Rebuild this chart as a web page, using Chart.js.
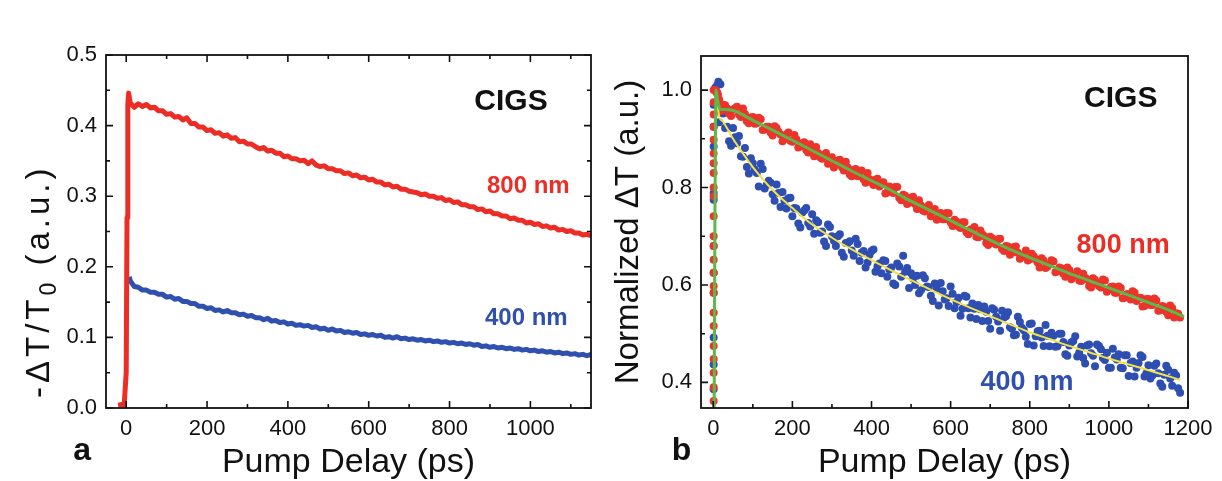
<!DOCTYPE html>
<html>
<head>
<meta charset="utf-8">
<script src="https://cdn.jsdelivr.net/npm/chart.js@4.4.1/dist/chart.umd.min.js"></script>
<style>
  body { margin: 0; background: #fff; overflow: hidden; }
  .panel { position: absolute; top: 0; width: 611px; height: 481px; }
</style>
</head>
<body>
<div class="panel" style="left:0"><canvas id="chartA"></canvas></div>
<div class="panel" style="left:611px"><canvas id="chartB"></canvas></div>
<script>
const FONT = "'Liberation Sans', Arial, sans-serif";
const RED = '#ec2d25';
const BLUE = '#2f50ae';

// pump delay in ps
const delay = [10,20,30,40,50,60,70,80,90,100,110,120,130,140,150,160,170,180,190,200,
  210,220,230,240,250,260,270,280,290,300,310,320,330,340,350,360,370,380,390,400,
  410,420,430,440,450,460,470,480,490,500,510,520,530,540,550,560,570,580,590,600,
  610,620,630,640,650,660,670,680,690,700,710,720,730,740,750,760,770,780,790,800,
  810,820,830,840,850,860,870,880,890,900,910,920,930,940,950,960,970,980,990,1000,
  1010,1020,1030,1040,1050,1060,1070,1080,1090,1100,1110,1120,1130,1140,1150,1160,1170,1180];
const delayHalf = [15,25,35,45,55,65,75,85,95,105,115,125,135,145,155,165,175,185,195,205,
  215,225,235,245,255,265,275,285,295,305,315,325,335,345,355,365,375,385,395,405,
  415,425,435,445,455,465,475,485,495,505,515,525,535,545,555,565,575,585,595,605,
  615,625,635,645,655,665,675,685,695,705,715,725,735,745,755,765,775,785,795,805,
  815,825,835,845,855,865,875,885,895,905,915,925,935,945,955,965,975,985,995,1005,
  1015,1025,1035,1045,1055,1065,1075,1085,1095,1105,1115,1125,1135,1145,1155,1165,1175];

// panel a: -dT/T0
const riseDelayA = [-20, -10, -5, 0, 2, 4, 6];
const riseRedA = [0.004, 0.005, 0.004, 0.05, 0.27, 0.43, 0.446];
const red800A = [
  0.432,0.426,0.431,0.427,0.430,0.425,0.426,0.421,0.421,0.416,
  0.417,0.412,0.413,0.408,0.411,0.403,0.403,0.398,0.398,0.393,
  0.394,0.389,0.390,0.385,0.387,0.382,0.383,0.377,0.378,0.374,
  0.374,0.370,0.367,0.369,0.364,0.365,0.361,0.361,0.356,0.357,
  0.353,0.353,0.350,0.351,0.346,0.350,0.344,0.342,0.343,0.339,
  0.339,0.336,0.336,0.332,0.333,0.329,0.330,0.326,0.327,0.323,
  0.324,0.320,0.320,0.316,0.317,0.313,0.314,0.310,0.310,0.307,
  0.306,0.305,0.302,0.303,0.300,0.300,0.297,0.298,0.294,0.295,
  0.291,0.292,0.288,0.288,0.285,0.285,0.281,0.282,0.278,0.279,
  0.275,0.275,0.272,0.272,0.268,0.269,0.266,0.266,0.262,0.263,
  0.260,0.261,0.257,0.258,0.255,0.256,0.252,0.253,0.250,0.251,
  0.248,0.248,0.245,0.246,0.244];
const leadDelayA = [8];
const leadBlueA = [0.186];
const blue400A = [
  0.180,0.172,0.171,0.167,0.167,0.164,0.164,0.161,0.161,0.157,
  0.158,0.154,0.155,0.151,0.151,0.148,0.148,0.144,0.144,0.141,
  0.142,0.138,0.139,0.136,0.138,0.135,0.135,0.132,0.133,0.130,
  0.131,0.128,0.128,0.125,0.127,0.123,0.124,0.121,0.122,0.119,
  0.120,0.117,0.118,0.116,0.117,0.114,0.115,0.112,0.113,0.110,
  0.112,0.109,0.110,0.107,0.108,0.106,0.107,0.104,0.105,0.103,
  0.104,0.102,0.103,0.100,0.101,0.099,0.101,0.098,0.099,0.097,
  0.098,0.096,0.097,0.095,0.096,0.094,0.095,0.093,0.094,0.092,
  0.093,0.091,0.092,0.090,0.091,0.089,0.090,0.087,0.088,0.086,
  0.087,0.085,0.086,0.084,0.085,0.083,0.084,0.082,0.083,0.081,
  0.082,0.080,0.081,0.079,0.080,0.078,0.079,0.077,0.078,0.076,
  0.077,0.075,0.076,0.074,0.076];

// panel b: normalized dT
const riseDelayB = 1;
const riseRedB = [0.362,0.39,0.42,0.448,0.475,0.516,0.543,0.584,0.598,0.625,0.652,0.68,
  0.70,0.741,0.782,0.80,0.83,0.85,0.87,0.898,0.925,0.95,0.975,1.0];
const riseBlueB = [0.386,0.437,0.492,0.584,0.625,0.68,0.775,0.789,0.884,0.925,0.97];
const peakDelayRedB = [5, 8, 12];
const peakRedB = [1.0, 0.995, 0.99];
const peakDelayBlueB = [5, 13, 18];
const peakBlueB = [1.005, 1.017, 1.012];
const red800B = [
  0.995,0.957,0.969,0.952,0.960,0.966,0.945,0.951,0.932,0.945,
  0.932,0.940,0.919,0.925,0.907,0.922,0.909,0.900,0.913,0.894,
  0.899,0.885,0.893,0.872,0.878,0.883,0.862,0.867,0.849,0.862,
  0.849,0.857,0.835,0.841,0.823,0.838,0.826,0.817,0.830,0.811,
  0.816,0.802,0.811,0.790,0.796,0.801,0.779,0.785,0.766,0.779,
  0.766,0.774,0.753,0.759,0.741,0.756,0.744,0.735,0.748,0.729,
  0.734,0.720,0.729,0.708,0.714,0.719,0.698,0.704,0.686,0.699,
  0.686,0.694,0.674,0.680,0.662,0.678,0.666,0.658,0.671,0.653,
  0.659,0.646,0.655,0.635,0.642,0.648,0.628,0.634,0.617,0.631,
  0.619,0.628,0.608,0.615,0.598,0.614,0.603,0.595,0.609,0.591,
  0.597,0.584,0.594,0.574,0.581,0.587,0.567,0.574,0.557,0.571,
  0.559,0.568,0.548,0.555,0.538,0.553,0.542,0.533];
const red800BHalf = [
  0.980,0.970,0.962,0.947,0.963,0.950,0.962,0.936,0.944,0.931,
  0.943,0.918,0.925,0.913,0.926,0.914,0.895,0.909,0.896,0.908,
  0.882,0.891,0.877,0.889,0.864,0.871,0.859,0.871,0.859,0.841,
  0.855,0.842,0.853,0.827,0.836,0.823,0.835,0.810,0.817,0.805,
  0.818,0.806,0.788,0.802,0.789,0.801,0.774,0.783,0.769,0.781,
  0.756,0.763,0.751,0.764,0.752,0.734,0.748,0.735,0.747,0.721,
  0.730,0.717,0.729,0.704,0.711,0.699,0.712,0.700,0.682,0.696,
  0.683,0.695,0.670,0.679,0.666,0.679,0.654,0.662,0.650,0.664,
  0.653,0.636,0.650,0.638,0.651,0.626,0.636,0.623,0.636,0.612,
  0.620,0.609,0.623,0.612,0.595,0.610,0.598,0.611,0.586,0.596,
  0.584,0.597,0.573,0.581,0.570,0.584,0.573,0.556,0.571,0.559,
  0.572,0.547,0.557,0.545,0.558,0.533,0.541];
const blue400B = [
  1.010,0.954,0.922,0.895,0.922,0.891,0.864,0.881,0.829,0.850,
  0.830,0.849,0.798,0.814,0.786,0.806,0.760,0.773,0.778,0.741,
  0.757,0.718,0.753,0.727,0.745,0.733,0.707,0.689,0.724,0.700,
  0.680,0.704,0.658,0.686,0.671,0.695,0.649,0.670,0.646,0.670,
  0.627,0.644,0.651,0.617,0.636,0.600,0.638,0.660,0.635,0.624,
  0.600,0.583,0.620,0.597,0.578,0.603,0.558,0.587,0.573,0.597,
  0.552,0.574,0.551,0.576,0.533,0.551,0.559,0.526,0.545,0.510,
  0.549,0.525,0.547,0.536,0.513,0.497,0.535,0.512,0.494,0.520,
  0.476,0.505,0.492,0.518,0.474,0.496,0.474,0.500,0.458,0.476,
  0.485,0.453,0.473,0.439,0.478,0.455,0.478,0.468,0.446,0.430,
  0.469,0.447,0.430,0.456,0.413,0.443,0.430,0.456,0.412,0.435,
  0.414,0.439,0.398,0.416,0.426,0.393,0.414,0.379];
const blue400BHalf = [
  0.934,0.952,0.925,0.886,0.903,0.906,0.863,0.842,0.860,0.837,
  0.802,0.838,0.805,0.810,0.773,0.789,0.791,0.757,0.779,0.758,
  0.726,0.749,0.758,0.720,0.705,0.729,0.710,0.680,0.719,0.691,
  0.700,0.666,0.686,0.690,0.660,0.684,0.666,0.636,0.662,0.673,
  0.638,0.624,0.649,0.632,0.603,0.644,0.617,0.627,0.594,0.614,
  0.619,0.589,0.614,0.596,0.567,0.593,0.604,0.570,0.557,0.582,
  0.565,0.537,0.578,0.552,0.562,0.530,0.550,0.556,0.526,0.552,
  0.535,0.506,0.533,0.544,0.510,0.498,0.524,0.507,0.479,0.521,
  0.495,0.506,0.475,0.496,0.502,0.473,0.500,0.483,0.455,0.482,
  0.495,0.461,0.450,0.476,0.460,0.433,0.475,0.450,0.461,0.430,
  0.451,0.458,0.429,0.456,0.440,0.412,0.440,0.452,0.419,0.408,
  0.434,0.419,0.391,0.434,0.408,0.420,0.388];

// fitted curves
const greenFitX = [2,4,7,12,17,30,45,55,75,100,150,200,250,300,350,400,450,500,550,600,
  650,700,750,800,850,900,950,1000,1050,1100,1150,1190];
const greenFitY = [0.30,0.70,1.0,0.975,0.961,0.960,0.959,0.957,0.949,0.938,0.918,0.897,
  0.876,0.855,0.834,0.814,0.794,0.772,0.752,0.732,0.712,0.692,0.673,0.656,0.640,0.624,
  0.609,0.594,0.579,0.564,0.549,0.535];
const yellowFitX = [2,4,7,15,25,50,75,100,150,200,250,300,350,400,450,500,550,600,650,700,
  750,800,850,900,950,1000,1050,1100,1150,1180];
const yellowFitY = [0.30,0.70,0.99,0.946,0.935,0.900,0.870,0.842,0.795,0.758,0.724,0.697,
  0.673,0.651,0.630,0.610,0.590,0.571,0.553,0.536,0.519,0.503,0.489,0.475,0.462,0.449,
  0.437,0.425,0.413,0.405];

// ticks
const xMajorA = [0,200,400,600,800,1000];
const xMinorA = [100,300,500,700,900,1100];
const yMajorA = [0,0.1,0.2,0.3,0.4,0.5];
const yMinorA = [0.05,0.15,0.25,0.35,0.45];
const xMajorB = [0,200,400,600,800,1000,1200];
const xMinorB = [100,300,500,700,900,1100];
const yMajorB = [0.4,0.6,0.8,1.0];
const yMinorB = [0.5,0.7,0.9];

const pts = (xs, ys) => ys.map((y, i) => ({x: Array.isArray(xs) ? xs[i] : xs, y}));

function makeFrame(cfg) {
  return {
    id: 'frame',
    afterDatasetsDraw(chart) {
      const {ctx, chartArea: a, scales} = chart;
      const sx = scales.x, sy = scales.y;
      ctx.save();
      ctx.strokeStyle = '#111';
      ctx.lineWidth = 1.6;
      ctx.beginPath();
      const seg = (x1, y1, x2, y2) => { ctx.moveTo(x1, y1); ctx.lineTo(x2, y2); };
      const xt = (vals, len) => vals.forEach(v => {
        const p = sx.getPixelForValue(v);
        seg(p, a.bottom, p, a.bottom - len);
        if (cfg.mirror) seg(p, a.top, p, a.top + len);
      });
      const yt = (vals, len) => vals.forEach(v => {
        const p = sy.getPixelForValue(v);
        seg(a.left, p, a.left + len, p);
        if (cfg.mirror) seg(a.right, p, a.right - len, p);
      });
      xt(cfg.xMajor, 7); xt(cfg.xMinor, 4);
      yt(cfg.yMajor, 7); yt(cfg.yMinor, 4);
      ctx.stroke();
      ctx.lineWidth = 1.8;
      ctx.strokeRect(a.left, a.top, a.right - a.left, a.bottom - a.top);
      ctx.restore();
    }
  };
}

function makeNotes(list) {
  return {
    id: 'notes',
    afterDraw(chart) {
      const {ctx, scales} = chart;
      ctx.save();
      ctx.textAlign = 'center';
      ctx.textBaseline = 'alphabetic';
      list.forEach(n => {
        ctx.font = 'bold ' + n.size + 'px ' + FONT;
        ctx.fillStyle = n.color;
        ctx.fillText(n.text, scales.x.getPixelForValue(n.x), scales.y.getPixelForValue(n.y));
      });
      ctx.restore();
    }
  };
}

// rotated y title with a real subscript, written upward from the bottom
function makeVTitle(parts, dx, dy) {
  return {
    id: 'vtitle',
    afterDraw(chart) {
      const {ctx, chartArea: a} = chart;
      ctx.save();
      ctx.translate(a.left + dx, a.bottom + dy);
      ctx.rotate(-Math.PI / 2);
      ctx.fillStyle = '#111';
      ctx.textAlign = 'left';
      ctx.textBaseline = 'alphabetic';
      ctx.letterSpacing = '4px';
      let cx = 0;
      parts.forEach(p => {
        ctx.font = p.size + 'px ' + FONT;
        ctx.fillText(p.text, cx, p.shift || 0);
        cx += ctx.measureText(p.text).width;
      });
      ctx.restore();
    }
  };
}

function xAxis(min, max, ticks) {
  return {
    type: 'linear', min, max,
    afterBuildTicks: s => { s.ticks = ticks.map(v => ({value: v})); },
    afterFit: s => { s.height = 73; },
    grid: {display: false, drawTicks: false},
    border: {display: false},
    ticks: {font: {size: 22}, color: '#111', padding: 8, maxRotation: 0, autoSkip: false,
      callback: v => String(v)},
    title: {display: true, text: 'Pump Delay (ps)', color: '#111',
      font: {size: 34, lineHeight: 1.1}, padding: {top: 0, bottom: 0}}
  };
}

function yAxis(min, max, ticks, width, title) {
  return {
    type: 'linear', min, max,
    afterBuildTicks: s => { s.ticks = ticks.map(v => ({value: v})); },
    afterFit: s => { s.width = width; },
    grid: {display: false, drawTicks: false},
    border: {display: false},
    ticks: {font: {size: 22}, color: '#111', padding: 9, autoSkip: false,
      callback: v => v.toFixed(1)},
    title: {display: !!title, text: title || '', color: '#111',
      font: {size: 33, lineHeight: 1.1}, padding: {top: 0, bottom: 0}}
  };
}

Chart.defaults.font.family = FONT;
Chart.defaults.animation = false;

new Chart(document.getElementById('chartA'), {
  type: 'scatter',
  data: {
    datasets: [
      {label: '800 nm', data: pts(riseDelayA, riseRedA).concat(pts(delay.slice(0, 115), red800A)),
        showLine: true, pointRadius: 0, borderColor: RED, borderWidth: 5, borderJoinStyle: 'round', order: 0},
      {label: '400 nm', data: pts(leadDelayA, leadBlueA).concat(pts(delay.slice(0, 115), blue400A)),
        showLine: true, pointRadius: 0, borderColor: BLUE, borderWidth: 5, borderJoinStyle: 'round', order: 1}
    ]
  },
  options: {
    responsive: true, maintainAspectRatio: false,
    layout: {padding: {left: 0, right: 20, top: 55, bottom: 0}},
    plugins: {legend: {display: false}, tooltip: {enabled: false}},
    scales: {
      x: xAxis(-50, 1150, xMajorA),
      y: yAxis(0, 0.5, yMajorA, 106, null)
    }
  },
  plugins: [
    makeFrame({xMajor: xMajorA, xMinor: xMinorA, yMajor: yMajorA, yMinor: yMinorA, mirror: true}),
    makeNotes([
      {text: 'CIGS', x: 952, y: 0.4225, size: 30, color: '#111'},
      {text: '800 nm', x: 995, y: 0.3045, size: 24, color: RED},
      {text: '400 nm', x: 990, y: 0.118, size: 24, color: BLUE},
      {text: 'a', x: -109, y: -0.0732, size: 32, color: '#111'}
    ]),
    makeVTitle([
      {text: '-ΔT/T', size: 33},
      {text: '0', size: 23, shift: 7},
      {text: ' (a.u.)', size: 33}
    ], -57, -10)
  ]
});

new Chart(document.getElementById('chartB'), {
  type: 'scatter',
  data: {
    datasets: [
      {label: 'fit 800 nm', data: pts(greenFitX, greenFitY), showLine: true, pointRadius: 0,
        borderColor: '#5cb848', borderWidth: 3, cubicInterpolationMode: 'monotone', order: 0},
      {label: 'fit 400 nm', data: pts(yellowFitX, yellowFitY), showLine: true, pointRadius: 0,
        borderColor: '#f2e244', borderWidth: 2, cubicInterpolationMode: 'monotone', order: 1},
      {label: '800 nm', data: pts(riseDelayB, riseRedB).concat(pts(peakDelayRedB, peakRedB),
          pts(delay, red800B), pts(delayHalf, red800BHalf)),
        pointRadius: 4, pointBorderWidth: 0, backgroundColor: 'rgb(236,52,42)', order: 2},
      {label: '400 nm', data: pts(riseDelayB, riseBlueB).concat(pts(peakDelayBlueB, peakBlueB),
          pts(delay, blue400B), pts(delayHalf, blue400BHalf)),
        pointRadius: 4, pointBorderWidth: 0, backgroundColor: 'rgb(46,78,178)', order: 3}
    ]
  },
  options: {
    responsive: true, maintainAspectRatio: false,
    layout: {padding: {left: 0, right: 34, top: 56, bottom: 0}},
    plugins: {legend: {display: false}, tooltip: {enabled: false}},
    scales: {
      x: xAxis(-31, 1200, xMajorB),
      y: yAxis(0.3475, 1.07, yMajorB, 90, 'Normalized ΔT (a.u.)')
    }
  },
  plugins: [
    makeFrame({xMajor: xMajorB, xMinor: xMinorB, yMajor: yMajorB, yMinor: yMinorB, mirror: false}),
    makeNotes([
      {text: 'CIGS', x: 1030, y: 0.965, size: 30, color: '#111'},
      {text: '800 nm', x: 1036, y: 0.666, size: 27, color: RED},
      {text: '400 nm', x: 793, y: 0.385, size: 27, color: BLUE},
      {text: 'b', x: -80.5, y: 0.2415, size: 32, color: '#111'}
    ])
  ]
});
</script>
</body>
</html>
